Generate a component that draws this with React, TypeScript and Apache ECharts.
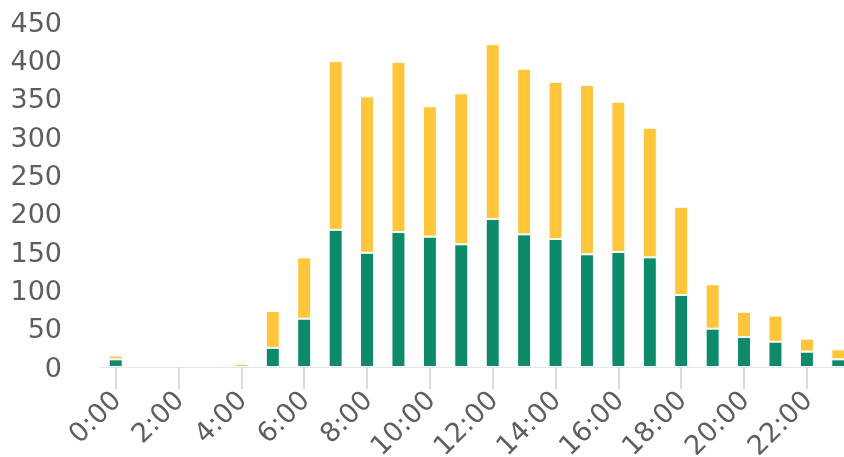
import React, { useEffect, useRef } from "react";
import * as echarts from "echarts";

const hours: string[] = [
  "0:00", "1:00", "2:00", "3:00", "4:00", "5:00", "6:00", "7:00", "8:00", "9:00", "10:00", "11:00",
  "12:00", "13:00", "14:00", "15:00", "16:00", "17:00", "18:00", "19:00", "20:00", "21:00", "22:00", "23:00",
];
const greenValues: number[] = [10, 0, 0, 0, 0, 25, 63, 179, 149, 176, 170, 160, 193, 173, 167, 147, 150, 143, 94, 50, 39, 33, 20, 10];
const yellowValues: number[] = [5, 0, 0, 0, 4, 48, 80, 220, 204, 222, 170, 197, 228, 216, 205, 221, 196, 169, 115, 58, 33, 34, 17, 13];

const hideZero = (arr: number[]) => arr.map((v) => (v === 0 ? "-" : v));

export default function App() {
  const ref = useRef<HTMLDivElement>(null);
  useEffect(() => {
    if (!ref.current) return;
    const chart = echarts.init(ref.current, undefined, { renderer: "svg" });
    chart.setOption({
      animation: false,
      grid: {
        left: 100,
        right: -10,
        top: 22,
        bottom: 90,
        containLabel: false,
        outerBoundsMode: "none",
      },
      xAxis: {
        type: "category",
        data: hours,
        axisLine: { lineStyle: { color: "#E3E6EE", width: 1 } },
        axisTick: {
          show: true,
          alignWithLabel: true,
          interval: 1,
          length: 22,
          lineStyle: { color: "#D6DAE3", width: 2 },
        },
        axisLabel: {
          interval: 1,
          rotate: 45,
          fontSize: 27,
          color: "#5e5e5e",
          fontFamily: "DejaVu Sans",
          margin: 28,
        },
      },
      yAxis: {
        type: "value",
        min: 0,
        max: 450,
        interval: 50,
        splitLine: { show: false },
        axisLine: { show: false },
        axisTick: { show: false },
        axisLabel: { fontSize: 27, color: "#5e5e5e", fontFamily: "DejaVu Sans", margin: 38 },
      },
      series: [
        {
          type: "bar",
          stack: "total",
          data: hideZero(greenValues),
          barWidth: 14,
          itemStyle: { color: "#0C8A69", borderColor: "#ffffff", borderWidth: 1 },
        },
        {
          type: "bar",
          stack: "total",
          data: hideZero(yellowValues),
          barWidth: 14,
          itemStyle: { color: "#FFC53B", borderColor: "#ffffff", borderWidth: 1 },
        },
      ],
    });
    return () => chart.dispose();
  }, []);
  return (
    <div
      ref={ref}
      style={{ position: "fixed", left: 0, top: 0, width: 844, height: 457, overflow: "hidden" }}
    />
  );
}
